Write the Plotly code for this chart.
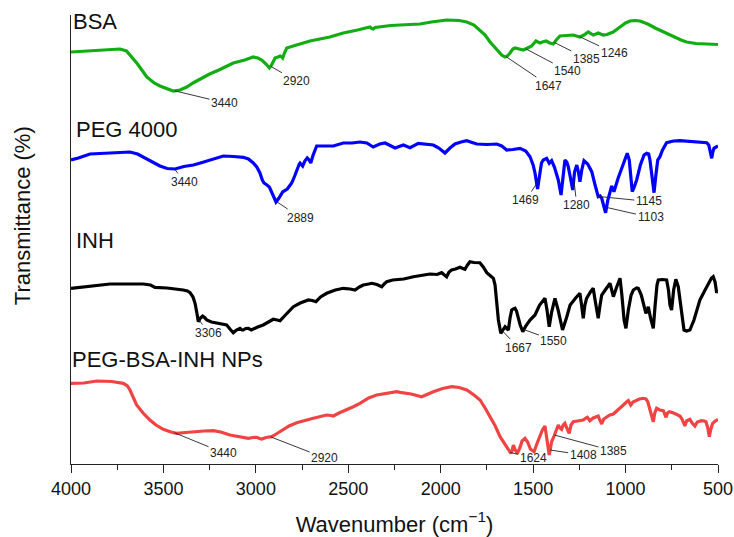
import numpy as np
import plotly.graph_objects as go

# ---------------- data (wavenumber, transmittance a.u., stacked) ----------------
bsa_wn = [4000, 3900, 3800, 3735, 3700, 3681, 3640, 3590, 3550, 3519, 3480, 3447, 3410, 3374, 3340, 3302,
          3250, 3200, 3122, 3060, 3014, 2990, 2968, 2945, 2927, 2915, 2896, 2880, 2869, 2860, 2855, 2845,
          2833, 2780, 2707, 2600, 2527, 2450, 2383, 2373, 2365, 2355, 2328, 2270, 2220, 2112, 2050, 1968,
          1900, 1859, 1820, 1787, 1760, 1733, 1710, 1697, 1670, 1652, 1640, 1625, 1610, 1598, 1580, 1553,
          1530, 1508, 1485, 1475, 1463, 1450, 1430, 1410, 1391, 1375, 1355, 1320, 1283, 1247, 1225, 1202,
          1190, 1175, 1160, 1148, 1135, 1121, 1100, 1067, 1030, 1000, 976, 950, 922, 880, 840, 796, 750,
          700, 670, 620, 560, 507, 500]
bsa_t = [412, 413, 414.5, 415, 413, 409, 400, 387, 381, 378, 375, 373, 374, 377, 381, 385,
         390, 394, 401, 404, 407, 406, 404, 400, 396, 399, 406, 407, 408, 407, 406, 411,
         416, 419, 423, 427, 431, 434, 437, 435.5, 435, 436.5, 437.3, 438.5, 439, 440, 442, 444,
         443.5, 442, 439, 434, 429, 422, 417, 414, 409, 407, 408, 411, 415, 416, 415, 414,
         416, 418, 423, 422, 421, 422, 423, 421, 420, 424, 428, 428.5, 429, 427, 429, 432,
         431, 429, 430, 431, 430, 429, 429.5, 432, 437, 441, 443, 443.5, 443, 440, 436, 432, 428,
         424, 422, 420.5, 420, 420, 419.5]

peg_wn = [4000, 3960, 3897, 3800, 3681, 3640, 3609, 3560, 3519, 3480, 3437, 3390, 3338, 3300, 3266, 3220,
          3176, 3120, 3068, 3040, 3014, 2995, 2978, 2965, 2956, 2940, 2927, 2910, 2891, 2875, 2855, 2830,
          2806, 2790, 2779, 2765, 2761, 2747, 2735, 2722, 2712, 2703, 2690, 2671, 2620, 2581, 2527, 2480,
          2437, 2400, 2365, 2330, 2301, 2270, 2247, 2202, 2166, 2121, 2080, 2040, 2010, 1977, 1950, 1923,
          1890, 1859, 1830, 1805, 1750, 1697, 1670, 1643, 1610, 1571, 1540, 1517, 1500, 1490, 1476, 1465,
          1455, 1445, 1427, 1413, 1400, 1385, 1364, 1349, 1338, 1328, 1318, 1310, 1298, 1286, 1276, 1264,
          1255, 1247, 1237, 1225, 1205, 1183, 1165, 1148, 1138, 1129, 1118, 1108, 1096, 1084, 1075, 1070,
          1063, 1040, 1015, 991, 980, 972, 964, 955, 940, 920, 900, 886, 875, 868, 858, 846, 836, 826, 814,
          800, 778, 740, 706, 650, 600, 561, 550, 540, 534, 528, 522, 510, 504, 500]
peg_t = [304, 306, 310, 311, 312, 310, 307, 302, 298, 295.5, 295, 297.5, 299, 301, 303, 306,
         308, 307.5, 306.7, 305, 301, 297, 291, 284, 281, 279, 277, 270, 262, 266, 272, 275,
         281, 288, 294, 300, 301, 298, 303, 306, 304, 301, 309, 318, 318, 318, 321, 321,
         322, 321, 317, 320, 321, 318, 316, 319, 316.3, 320.7, 320, 319, 316, 311, 316, 320,
         322, 323.3, 321.5, 320, 319.5, 320, 318, 314, 314.5, 315.7, 313, 307.3, 299, 291, 275, 289,
         301, 304, 305.7, 300.7, 303.3, 297, 284, 269, 289, 304, 302, 297.3, 286, 274, 292, 299,
         292, 282.3, 294, 303.3, 300, 292.3, 279, 267.3, 268, 265.7, 258, 251.3, 264, 274, 278, 275.7,
         272.3, 286, 299, 310.7, 304, 284, 272.3, 276, 284, 299, 309, 310.7, 310, 304, 289, 271.3, 289, 304, 307.3,
         314, 321.3, 323, 323.3, 322.5, 322, 321.3, 319, 312, 305.7, 312, 315.7, 317, 317.3, 318]

inh_wn = [4000, 3900, 3789, 3700, 3609, 3570, 3546, 3480, 3420, 3393, 3370, 3356, 3340, 3329, 3320, 3311,
          3300, 3288, 3275, 3266, 3240, 3212, 3180, 3158, 3140, 3122, 3105, 3086, 3075, 3068, 3055, 3041,
          3025, 3014, 2990, 2960, 2935, 2906, 2885, 2869, 2840, 2797, 2760, 2716, 2695, 2675, 2650, 2617,
          2570, 2527, 2490, 2464, 2440, 2419, 2390, 2373, 2345, 2319, 2300, 2292, 2260, 2229, 2200, 2148,
          2100, 2058, 2020, 1995, 1980, 1968, 1955, 1941, 1920, 1896, 1880, 1869, 1855, 1842, 1820, 1788,
          1770, 1751, 1730, 1715, 1706, 1697, 1688, 1675, 1665, 1652, 1645, 1634, 1625, 1616, 1607, 1598,
          1590, 1585, 1570, 1556, 1540, 1517, 1500, 1490, 1465, 1436, 1425, 1413, 1400, 1382, 1365, 1341,
          1320, 1300, 1270, 1247, 1238, 1229, 1220, 1211, 1190, 1175, 1165, 1148, 1138, 1129, 1110, 1094,
          1084, 1075, 1066, 1050, 1030, 1020, 1008, 998, 985, 970, 958, 940, 931, 915, 900, 890, 883, 877,
          865, 850, 840, 830, 823, 800, 778, 768, 760, 751, 740, 728, 715, 700, 690, 684, 670, 652, 630,
          610, 598, 570, 550, 535, 526, 516, 508, 500]
inh_t = [175.7, 178, 180, 180, 180, 179, 176.7, 176, 175, 174, 173, 171.3, 167, 160.7, 152, 142.3,
         146, 148, 146, 144, 142, 140.7, 140, 139, 135, 131.3, 134, 135.7, 134, 134, 135.5, 135.7,
         134, 134.7, 137, 139, 142, 144.7, 144, 143.3, 149, 157.3, 161, 164, 163.5, 162.3, 167, 170.7,
         174, 175.7, 175, 174, 177, 179, 180, 180.7, 179.5, 177.3, 181, 182.3, 184, 184.7, 185, 187.3,
         188.5, 190, 189.5, 191.3, 189, 187.3, 192, 194, 195, 196.7, 195.5, 194.7, 199, 202.3, 201.5, 201.3,
         197, 191.3, 188, 185.7, 179, 160.7, 144, 130.7, 134, 137.3, 136, 134, 146, 154, 155, 155.7,
         153, 149, 139, 132.3, 138, 144, 147, 149, 159, 165.7, 154, 137.3, 152, 165.7, 154, 134,
         146, 159, 166, 170.7, 159, 145.7, 159, 165.7, 172, 175.7, 164, 145.7, 159, 169, 174, 179,
         180.7, 174, 167.3, 176, 185.7, 169, 144, 135.7, 154, 169, 174, 176, 175.7, 169, 159, 150.7, 154, 157.3,
         146, 135.7, 159, 179, 184, 184.5, 184, 174, 159, 154, 174, 184.7, 177.3, 154, 139, 134, 133, 134, 144,
         157, 164, 174, 181, 186, 187.3, 182, 172.3, 172]

nps_wn = [4000, 3930, 3861, 3780, 3717, 3695, 3681, 3665, 3645, 3610, 3573, 3540, 3501, 3460, 3428, 3380,
          3338, 3280, 3230, 3190, 3140, 3090, 3041, 3015, 2996, 2980, 2968, 2945, 2914, 2890, 2869, 2820,
          2779, 2730, 2689, 2650, 2617, 2595, 2581, 2550, 2509, 2470, 2437, 2390, 2346, 2290, 2238, 2220,
          2160, 2103, 2070, 2040, 1990, 1941, 1900, 1859, 1820, 1787, 1760, 1733, 1705, 1679, 1655, 1634,
          1620, 1613, 1607, 1597, 1585, 1570, 1560, 1544, 1530, 1515, 1495, 1480, 1466, 1450, 1436, 1431,
          1427, 1420, 1413, 1406, 1400, 1388, 1376, 1364, 1355, 1346, 1337, 1328, 1318, 1305, 1295, 1283,
          1260, 1229, 1215, 1207, 1200, 1193, 1175, 1160, 1148, 1139, 1129, 1118, 1102, 1085, 1066, 1040,
          1012, 995, 985, 978, 972, 960, 949, 925, 904, 890, 880, 871, 860, 850, 842, 832, 815, 796, 788,
          781, 773, 763, 740, 706, 695, 685, 679, 670, 652, 640, 625, 612, 589, 575, 565, 555, 547, 540,
          529, 515, 507, 500]
nps_t = [80.7, 81, 83, 82.5, 80.7, 78, 74, 68, 59, 51, 44, 39, 34.7, 32, 30.7, 31.5,
         32.3, 33, 33.3, 32, 29, 27, 25.7, 26.5, 26.7, 25.5, 25, 26.5, 27.3, 30, 32.3, 38,
         41.3, 44, 45.7, 47.5, 49, 48.5, 48, 51, 54, 57.5, 60.7, 66, 69, 71, 72.3, 71.7,
         70, 67.3, 70, 72.3, 75.5, 77.3, 76.5, 74, 69, 64, 56, 47.3, 38, 27.3, 20, 14,
         10.7, 14, 19, 14, 10.7, 17, 23, 25.7, 22, 15, 12.3, 20, 27.3, 34, 38, 32,
         24, 16, 9, 16, 22.3, 27.3, 34, 39, 36, 34.7, 39, 40.7, 36, 30.7, 39, 42.3,
         43, 44, 46, 46.7, 45, 43.3, 46, 47.5, 48, 44, 40, 45, 46.7, 49, 50, 54,
         59, 62, 63.3, 61, 59, 62, 63, 65, 65.7, 65, 62.3, 57.3, 49, 42.3, 51, 55.7, 54, 53.3, 50,
         46.7, 51, 52.3, 51, 48, 45, 39, 38, 43, 44.7, 41, 38, 42, 43.3, 43, 42.3, 36, 27.3, 34,
         40.7, 43, 44, 44.5]

series_names = ["BSA", "PEG 4000", "INH", "PEG-BSA-INH NPs"]
bsa_peaks = [3440, 2920, 1647, 1540, 1385, 1246]
peg_peaks = [3440, 2889, 1469, 1280, 1145, 1103]
inh_peaks = [3306, 1667, 1550]
nps_peaks = [3440, 2920, 1624, 1408, 1385]

# ---------------- styling ----------------
FONT = "Liberation Sans, Arial, sans-serif"
colors = ["#12AD12", "#0000FF", "#000000", "#F04444"]
series = [(bsa_wn, bsa_t), (peg_wn, peg_t), (inh_wn, inh_t), (nps_wn, nps_t)]
peaks = [bsa_peaks, peg_peaks, inh_peaks, nps_peaks]
offsets = [
    [(50, 12), (26, 15), (43, 29), (42, 22), (32, 16), (34, 16)],
    [(10, 13), (24, 16), (-13, 20), (3, 26), (50, 5), (44, 10)],
    [(9, 13), (16, 17), (30, 11)],
    [(49, 20), (54, 21), (23, 6), (33, 5), (59, 16)],
]
name_y = [442.5, 334.5, 223.5, 104.5]
name_shift = [0, 3, 3, -1]

fig = go.Figure()
annotations = []
for i, (wn, t) in enumerate(series):
    fig.add_trace(go.Scatter(x=wn, y=t, mode="lines", name=series_names[i],
                             line=dict(color=colors[i], width=3.2), showlegend=False))
    xs = np.array(wn[::-1], dtype=float)
    ys = np.array(t[::-1], dtype=float)
    for p, (ax, ay) in zip(peaks[i], offsets[i]):
        yv = float(np.interp(p, xs, ys))
        annotations.append(dict(x=p, y=yv, xref="x", yref="y", text=str(p),
                                showarrow=True, arrowhead=0, arrowwidth=0.9, arrowcolor="#222222",
                                ax=ax, ay=ay, standoff=0,
                                font=dict(family=FONT, size=12, color="#222222")))
    annotations.append(dict(x=0, y=name_y[i], xref="paper", yref="y", text=series_names[i],
                            showarrow=False, xanchor="left", yanchor="middle", xshift=name_shift[i],
                            font=dict(family=FONT, size=22, color="#111111")))

annotations.append(dict(x=-0.0757, y=0.552, xref="paper", yref="paper", text="Transmittance (%)",
                        showarrow=False, textangle=-90, xanchor="center", yanchor="middle",
                        font=dict(family=FONT, size=22, color="#111111")))

fig.update_layout(
    template="none",
    width=734, height=537,
    margin=dict(l=71, r=16, t=15, b=73, autoexpand=False),
    paper_bgcolor="white", plot_bgcolor="white",
    showlegend=False,
    annotations=annotations,
    font=dict(family=FONT, color="#111111"),
    xaxis=dict(range=[4000, 500], showgrid=False, zeroline=False, automargin=False,
               showline=True, linecolor="#222222", linewidth=1.3,
               ticks="outside", ticklen=8, tickwidth=1.3, tickcolor="#222222",
               tick0=500, dtick=500,
               minor=dict(ticks="outside", ticklen=5, tickwidth=1.2, tickcolor="#222222", dtick=250,
                          showgrid=False),
               tickfont=dict(family=FONT, size=18, color="#111111"),
               title=dict(text="Wavenumber (cm<sup>\u22121</sup>)", standoff=18,
                          font=dict(family=FONT, size=22, color="#111111"))),
    yaxis=dict(range=[0, 449], showgrid=False, zeroline=False, showticklabels=False, automargin=False,
               showline=True, linecolor="#222222", linewidth=1.3, ticks=""),
)

fig.write_html("out.html")
